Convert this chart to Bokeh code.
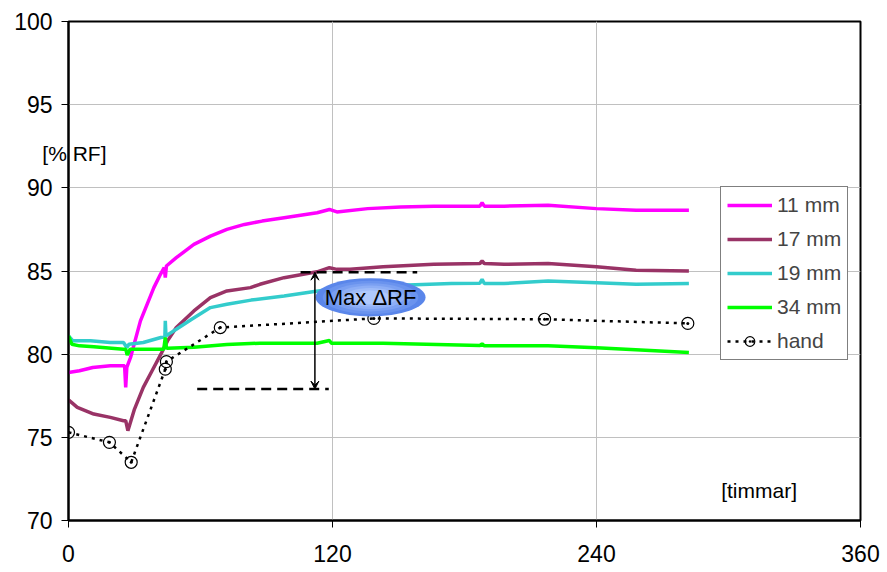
from bokeh.plotting import figure
from bokeh.models import (Range1d, FixedTicker, Legend, LegendItem, Label, Arrow, VeeHead)
from bokeh.core.properties import value
from bokeh.embed import file_html
from bokeh.resources import INLINE

FONT = "Liberation Sans"

# ---- data (hours, % RF) ----
t11 = [0, 5, 11, 19, 25.5, 26, 26.5, 28.2, 32.7, 38.8, 41.8, 43.5, 44, 44.5, 49, 57, 64.5, 72, 80,
       88, 98, 113, 118.6, 122, 136, 151, 166, 187, 188, 189, 198, 218, 240, 258, 282]
y11 = [78.9, 79.0, 79.2, 79.3, 79.3, 78.0, 79.2, 79.8, 82.0, 84.0, 84.8, 85.2, 84.6, 85.3, 85.8, 86.6, 87.1, 87.5, 87.8,
       88.0, 88.2, 88.5, 88.7, 88.55, 88.75, 88.85, 88.9, 88.9, 89.1, 88.9, 88.9, 88.95, 88.75, 88.65, 88.65]

t17 = [0, 4, 11.5, 19, 25, 26, 27, 30, 34, 38, 42, 45, 49, 57, 64.5, 72, 82.7, 87, 98, 113, 118.6, 122, 128,
       143, 166, 187, 188, 189, 198, 218, 240, 258, 282]
y17 = [77.25, 76.8, 76.4, 76.2, 76.0, 76.0, 75.4, 76.7, 78.0, 79.0, 80.0, 80.8, 81.6, 82.6, 83.4, 83.8, 84.0, 84.2, 84.6,
       84.95, 85.2, 85.1, 85.1, 85.25, 85.4, 85.45, 85.6, 85.45, 85.4, 85.45, 85.25, 85.05, 85.0]

t19 = [0, 2, 10, 19, 25, 26.5, 27.5, 34, 42, 43.8, 44, 44.3, 49, 56, 64.5, 72, 83, 98, 111, 128, 151, 174,
       187, 188, 189, 198, 218, 240, 258, 282]
y19 = [81.1, 80.8, 80.8, 80.7, 80.7, 80.4, 80.6, 80.7, 81.0, 81.05, 82.0, 81.1, 81.5, 82.1, 82.8, 83.0, 83.25, 83.5,
       83.75, 84.05, 84.15, 84.25, 84.27, 84.5, 84.25, 84.25, 84.4, 84.3, 84.2, 84.25]

t34 = [0, 1.5, 5, 11.5, 25, 26, 26.7, 28, 34, 43.3, 44, 44.5, 45, 57, 72, 87, 113, 118.6, 119.5, 143, 187,
       188, 189, 218, 240, 260, 282]
y34 = [81.1, 80.6, 80.5, 80.45, 80.3, 80.3, 79.95, 80.3, 80.3, 80.3, 81.0, 80.4, 80.35, 80.42, 80.58, 80.66, 80.66,
       80.82, 80.66, 80.66, 80.52, 80.62, 80.5, 80.5, 80.38, 80.25, 80.1]

t_hand = [0, 18.6, 28.5, 44, 44.5, 69, 138.8, 216.4, 281.5]
y_hand = [75.3, 74.7, 73.5, 79.1, 79.55, 81.6, 82.15, 82.1, 81.85]

series_names = ["11 mm", "17 mm", "19 mm", "34 mm", "hand"]
x_ticks = [0, 120, 240, 360]
y_ticks = [70, 75, 80, 85, 90, 95, 100]
y_unit_label = "[% RF]"
x_unit_label = "[timmar]"

# annotation "Max ΔRF"
dash_top_x = [105.5, 158.5]
dash_top_y = [84.93, 84.93]
dash_bot_x = [58.5, 118.3]
dash_bot_y = [77.9, 77.9]
arrow_x = 112
ellipse_x, ellipse_y, ellipse_w, ellipse_h = 137.3, 83.42, 50, 2.3

p = figure(width=887, height=572, output_backend="svg", toolbar_location=None,
           x_range=Range1d(0, 360), y_range=Range1d(70, 100),
           min_border_left=68, min_border_right=27, min_border_top=21, min_border_bottom=52,
           background_fill_color="white", border_fill_color="white")

p.outline_line_color = "black"
p.outline_line_width = 2

for ax in (p.xaxis[0], p.yaxis[0]):
    ax.axis_line_color = "black"
    ax.axis_line_width = 2
    ax.major_tick_line_color = "black"
    ax.major_tick_line_width = 1
    ax.major_tick_out = 7
    ax.major_tick_in = 0
    ax.minor_tick_line_color = None
    ax.major_label_text_font = FONT
    ax.major_label_text_font_size = "23px"
    ax.major_label_text_color = "black"
p.xaxis[0].ticker = FixedTicker(ticks=x_ticks)
p.yaxis[0].ticker = FixedTicker(ticks=y_ticks)
p.xaxis[0].major_label_standoff = 17
p.yaxis[0].major_label_standoff = 9

p.xgrid[0].ticker = FixedTicker(ticks=x_ticks)
p.ygrid[0].ticker = FixedTicker(ticks=y_ticks)
for g in (p.xgrid[0], p.ygrid[0]):
    g.grid_line_color = "#C0C0C0"
    g.grid_line_width = 1

r11 = p.line(t11, y11, line_color="#FF00FF", line_width=3.5)
r17 = p.line(t17, y17, line_color="#993366", line_width=3.5)
r19 = p.line(t19, y19, line_color="#33CCCC", line_width=3.5)
r34 = p.line(t34, y34, line_color="#00FF00", line_width=3.5)
rh_line = p.line(t_hand, y_hand, line_color="black", line_width=2.5, line_dash="3 5")
rh_pts = p.scatter(t_hand, y_hand, marker="circle_dot", size=12, line_color="black",
                   line_width=1.2, fill_alpha=0)

# dashed guide lines
p.line(dash_top_x, dash_top_y, line_color="black", line_width=2.5, line_dash="10 6")
p.line(dash_bot_x, dash_bot_y, line_color="black", line_width=2.5, line_dash="10 6")

# gradient-like ellipse
shades = ["#5A86EA", "#6A93EE", "#7BA0F2", "#8DAEF6", "#9FBCF9", "#B0C9FC"]
for i, c in enumerate(shades):
    f = 1.0 - i * 0.13
    p.ellipse(x=[ellipse_x], y=[ellipse_y], width=ellipse_w * f, height=ellipse_h * f,
              fill_color=c, line_color=None)

p.add_layout(Arrow(x_start=arrow_x, y_start=dash_bot_y[0], x_end=arrow_x, y_end=dash_top_y[0],
                   line_width=1.5, line_color="black",
                   start=VeeHead(size=8, fill_color="black", line_color="black", line_width=1),
                   end=VeeHead(size=8, fill_color="black", line_color="black", line_width=1)))

p.add_layout(Label(x=ellipse_x, y=ellipse_y, text="Max ΔRF", text_align="center",
                   text_baseline="middle", text_font=FONT, text_font_size="22px", text_color="black"))
p.add_layout(Label(x=313.9, y=71.8, text=x_unit_label, text_align="center",
                   text_baseline="middle", text_font=FONT, text_font_size="21px", text_color="black"))

# y unit label straddling the axis line: drawn at overlay level so the frame does not clip it
unit_r = p.text(x=[2.7], y=[92.06], text=[y_unit_label], text_align="center",
                text_baseline="middle", text_font=value(FONT), text_font_size="21px",
                text_color="black", level="overlay")

legend = Legend(items=[
    LegendItem(label=series_names[0], renderers=[r11]),
    LegendItem(label=series_names[1], renderers=[r17]),
    LegendItem(label=series_names[2], renderers=[r19]),
    LegendItem(label=series_names[3], renderers=[r34]),
    LegendItem(label=series_names[4], renderers=[rh_line, rh_pts]),
], location=(652, 160))
legend.border_line_color = "black"
legend.border_line_width = 1
legend.background_fill_color = "white"
legend.background_fill_alpha = 1
legend.label_text_font = FONT
legend.label_text_font_size = "21px"
legend.glyph_width = 45
legend.glyph_height = 24
legend.label_height = 24
legend.label_standoff = 5
legend.spacing = 10
legend.padding = 6
legend.margin = 0
p.add_layout(legend)

open("out.html", "w").write(file_html(p, INLINE))
